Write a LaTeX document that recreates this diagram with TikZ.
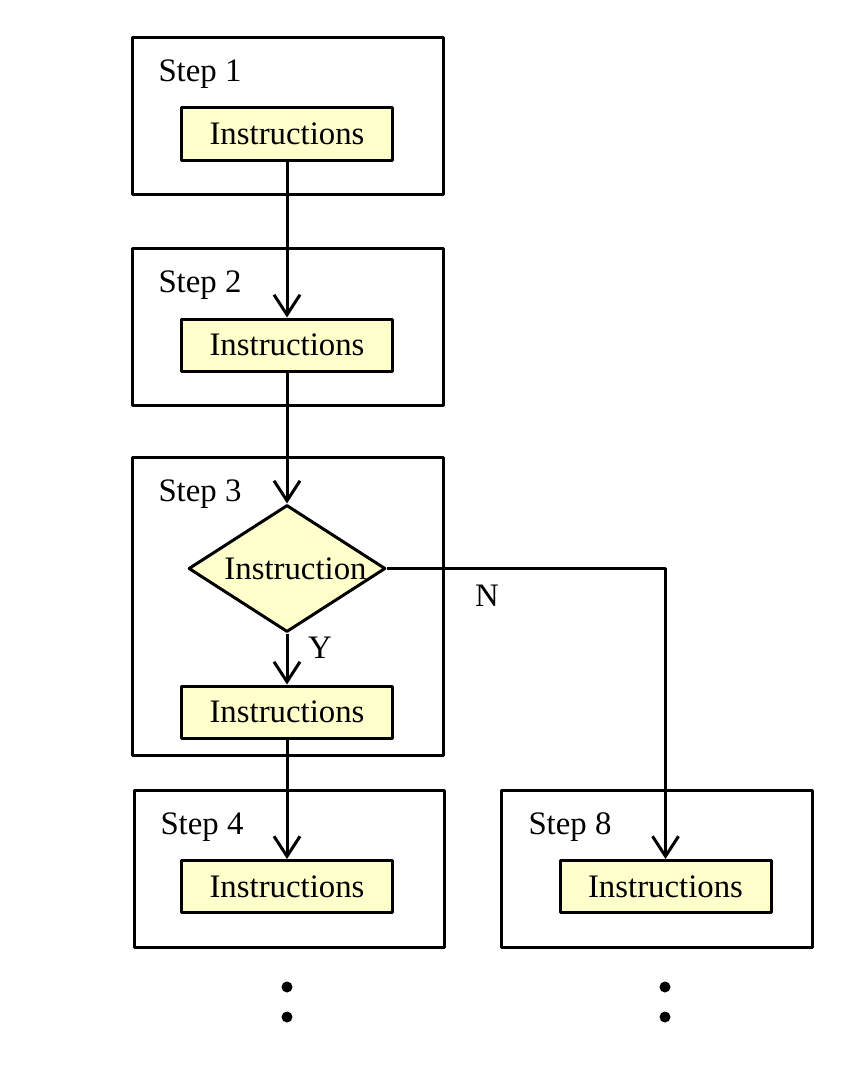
\documentclass[tikz,border=0pt]{standalone}
\usepackage{fontspec}
\setmainfont{Liberation Serif}
\usetikzlibrary{shapes.geometric,arrows.meta}
\definecolor{instrfill}{RGB}{255,255,204}
\tikzset{
  stepbox/.style={draw, line width=1.5pt, minimum width=155.5pt, inner sep=0pt},
  instr/.style={draw, fill=instrfill, line width=1.5pt, minimum width=105.5pt, minimum height=26pt, inner sep=0pt},
  decision/.style={diamond, draw, fill=instrfill, line width=1.5pt, minimum width=98.5pt, minimum height=63.5pt, inner sep=0pt},
  steplabel/.style={anchor=base west, inner sep=0pt},
  dot/.style={circle, fill=black, minimum size=5.5pt, inner sep=0pt},
}
\begin{document}
\begin{tikzpicture}[x=0.5pt, y=-0.5pt, line width=1.5pt, line join=round, >={Straight Barb[length=10pt,width=13pt]}, font=\fontsize{16.4}{19}\selectfont]
            \useasboundingbox (0,0) rectangle (850,1065);
            % step frames
            \node[stepbox, minimum height=78pt] (s1) at (287.5,116) {};
            \node[stepbox, minimum height=78.5pt] (s2) at (287.5,326.5) {};
            \node[stepbox, minimum height=149pt] (s3) at (287.5,606) {};
            \node[stepbox, minimum height=78.5pt, minimum width=155pt] (s4) at (289,868.5) {};
            \node[stepbox, minimum height=78.5pt] (s8) at (656.5,868.5) {};
            \node[steplabel] (l1) at (157,82) {Step 1};
            \node[steplabel] (l2) at (157,292) {Step 2};
            \node[steplabel] (l3) at (157,501) {Step 3};
            \node[steplabel] (l4) at (159,834) {Step 4};
            \node[steplabel] (l8) at (527,834) {Step 8};
            % instructions
            \node[instr] (i1) at (287,134) {Instructions};
            \node[instr] (i2) at (287,345) {Instructions};
            \node[decision] (d3) at (287,568.5) {\makebox[0pt]{\hspace{8.5pt}Instruction}};
            \node[instr] (i3) at (287,712) {Instructions};
            \node[instr] (i4) at (287,886.5) {Instructions};
            \node[instr] (i8) at (665.5,886.5) {Instructions};
            % flow
            \draw[->] (i1) -- (i2);
            \draw[->] (i2) -- (d3);
            \draw[->] (d3) -- (i3);
            \draw[->] (i3) -- (i4);
            \draw[->] (d3.east) -| (i8.north);
            \node (yes) at (320,648) {Y};
            \node (no) at (487,596) {N};
            % continuation
            \node[dot] (c1) at (287,987) {};
            \node[dot] (c2) at (287,1017) {};
            \node[dot] (c3) at (665,987) {};
            \node[dot] (c4) at (665,1017) {};
        \end{tikzpicture}
\end{document}
